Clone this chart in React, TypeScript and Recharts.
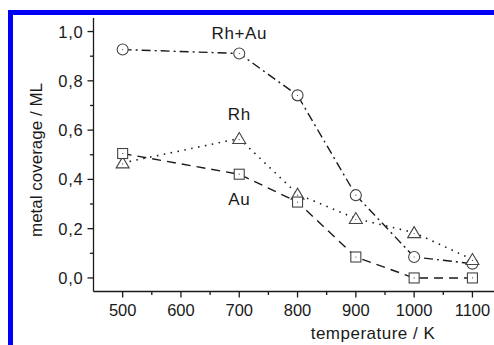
import { LineChart, Line, XAxis, YAxis, ReferenceDot } from 'recharts';

// temperatures (K) and coverage (ML)
const temps = [500, 700, 800, 900, 1000, 1100];
const rhAu = [0.927, 0.911, 0.741, 0.336, 0.085, 0.058];
const rh = [0.467, 0.566, 0.34, 0.241, 0.184, 0.075];
const au = [0.505, 0.421, 0.308, 0.085, 0.0, 0.0];

const xTicks = [500, 550, 600, 650, 700, 750, 800, 850, 900, 950, 1000, 1050, 1100];
const yTicks = [0, 0.1, 0.2, 0.3, 0.4, 0.5, 0.6, 0.7, 0.8, 0.9, 1.0];

const seriesLabels = [
  { name: 'Rh+Au', x: 700, y: 0.993 },
  { name: 'Rh', x: 700, y: 0.664 },
  { name: 'Au', x: 700, y: 0.321 },
];

const data = temps.map((t, i) => ({ t, rhAu: rhAu[i], rh: rh[i], au: au[i] }));

const INK = '#1a1a1a';
const MARK = '#444';
const FONT = '"Liberation Sans", Arial, sans-serif';

function XTick(props: any) {
  const { x, y, payload } = props;
  const major = payload.value % 100 === 0;
  return (
    <g>
      <line x1={x} x2={x} y1={y} y2={y + (major ? 6 : 3.5)} stroke={INK} strokeWidth={1.3} />
      {major && (
        <text x={x} y={y + 24.5} textAnchor="middle" fontSize={16.5} fill={INK} fontFamily={FONT}>
          {payload.value}
        </text>
      )}
    </g>
  );
}

function YTick(props: any) {
  const { x, y, payload } = props;
  const v = Math.round(payload.value * 10);
  const major = v % 2 === 0;
  return (
    <g>
      <line x1={x - (major ? 6 : 3.5)} x2={x} y1={y} y2={y} stroke={INK} strokeWidth={1.3} />
      {major && (
        <text
          x={x - 10}
          y={y + 6}
          textAnchor="end"
          fontSize={16.5}
          letterSpacing={0.8}
          fill={INK}
          fontFamily={FONT}
        >
          {(v / 10).toFixed(1).replace('.', ',')}
        </text>
      )}
    </g>
  );
}

function circleDot(props: any) {
  const { cx, cy, index } = props;
  return (
    <g key={`c${index}`}>
      <circle cx={cx} cy={cy} r={5.5} fill="#fff" stroke={MARK} strokeWidth={1.1} />
      <circle cx={cx} cy={cy} r={0.6} fill={MARK} />
    </g>
  );
}

function triangleDot(props: any) {
  const { cx, cy, index } = props;
  return (
    <g key={`t${index}`}>
      <polygon
        points={`${cx},${cy - 6} ${cx - 6.5},${cy + 5} ${cx + 6.5},${cy + 5}`}
        fill="#fff"
        stroke={MARK}
        strokeWidth={1.1}
      />
      <circle cx={cx} cy={cy + 1} r={0.6} fill={MARK} />
    </g>
  );
}

function squareDot(props: any) {
  const { cx, cy, index } = props;
  return (
    <g key={`s${index}`}>
      <rect x={cx - 5} y={cy - 5} width={10} height={10} fill="#fff" stroke={MARK} strokeWidth={1.1} />
      <circle cx={cx} cy={cy} r={0.6} fill={MARK} />
    </g>
  );
}

export default function App() {
  return (
    <div
      style={{
        position: 'absolute',
        left: 0,
        top: 0,
        width: 494,
        height: 345,
        background: '#fff',
        overflow: 'hidden',
        fontFamily: FONT,
      }}
    >
      {/* blue frame */}
      <div style={{ position: 'absolute', left: 8, top: 10, width: 486, height: 5, background: '#0000f5' }} />
      <div style={{ position: 'absolute', left: 8, top: 10, width: 5, height: 335, background: '#0000f5' }} />

      <div style={{ position: 'absolute', left: 0, top: 0 }}>
        <LineChart width={494} height={345} data={data} margin={{ top: 18, right: 0, bottom: 0, left: 0 }}>
          <XAxis
            dataKey="t"
            type="number"
            domain={[450, 1137]}
            ticks={xTicks}
            allowDataOverflow
            height={53.5}
            tickSize={0}
            tickMargin={0}
            tickLine={false}
            axisLine={{ stroke: INK, strokeWidth: 1.3 }}
            tick={<XTick />}
            interval={0}
          />
          <YAxis
            type="number"
            domain={[-0.055, 1.055]}
            ticks={yTicks}
            allowDataOverflow
            width={93.5}
            tickSize={0}
            tickMargin={0}
            tickLine={false}
            axisLine={{ stroke: INK, strokeWidth: 1.3 }}
            tick={<YTick />}
            interval={0}
          />
          <Line
            dataKey="rhAu"
            type="linear"
            stroke={INK}
            strokeWidth={1.4}
            strokeDasharray="9 4 2 4"
            dot={circleDot}
            isAnimationActive={false}
          />
          <Line
            dataKey="rh"
            type="linear"
            stroke={INK}
            strokeWidth={1.6}
            strokeDasharray="1.5 5.5"
            dot={triangleDot}
            isAnimationActive={false}
          />
          <Line
            dataKey="au"
            type="linear"
            stroke={INK}
            strokeWidth={1.4}
            strokeDasharray="9 6"
            dot={squareDot}
            isAnimationActive={false}
          />
          {seriesLabels.map((s) => (
            <ReferenceDot
              key={s.name}
              x={s.x}
              y={s.y}
              r={0}
              stroke="none"
              label={{
                value: s.name,
                position: 'center',
                fontSize: 17,
                letterSpacing: 0.6,
                fill: INK,
                fontFamily: FONT,
              }}
            />
          ))}
        </LineChart>
      </div>

      <div
        style={{
          position: 'absolute',
          left: 37,
          top: 160,
          transform: 'translate(-50%, -50%) rotate(-90deg)',
          whiteSpace: 'nowrap',
          fontSize: 17,
          color: INK,
        }}
      >
        metal coverage / ML
      </div>
      <div
        style={{
          position: 'absolute',
          left: 373,
          top: 334,
          transform: 'translate(-50%, -50%)',
          whiteSpace: 'nowrap',
          fontSize: 17,
          letterSpacing: 0.5,
          color: INK,
        }}
      >
        temperature / K
      </div>
    </div>
  );
}
